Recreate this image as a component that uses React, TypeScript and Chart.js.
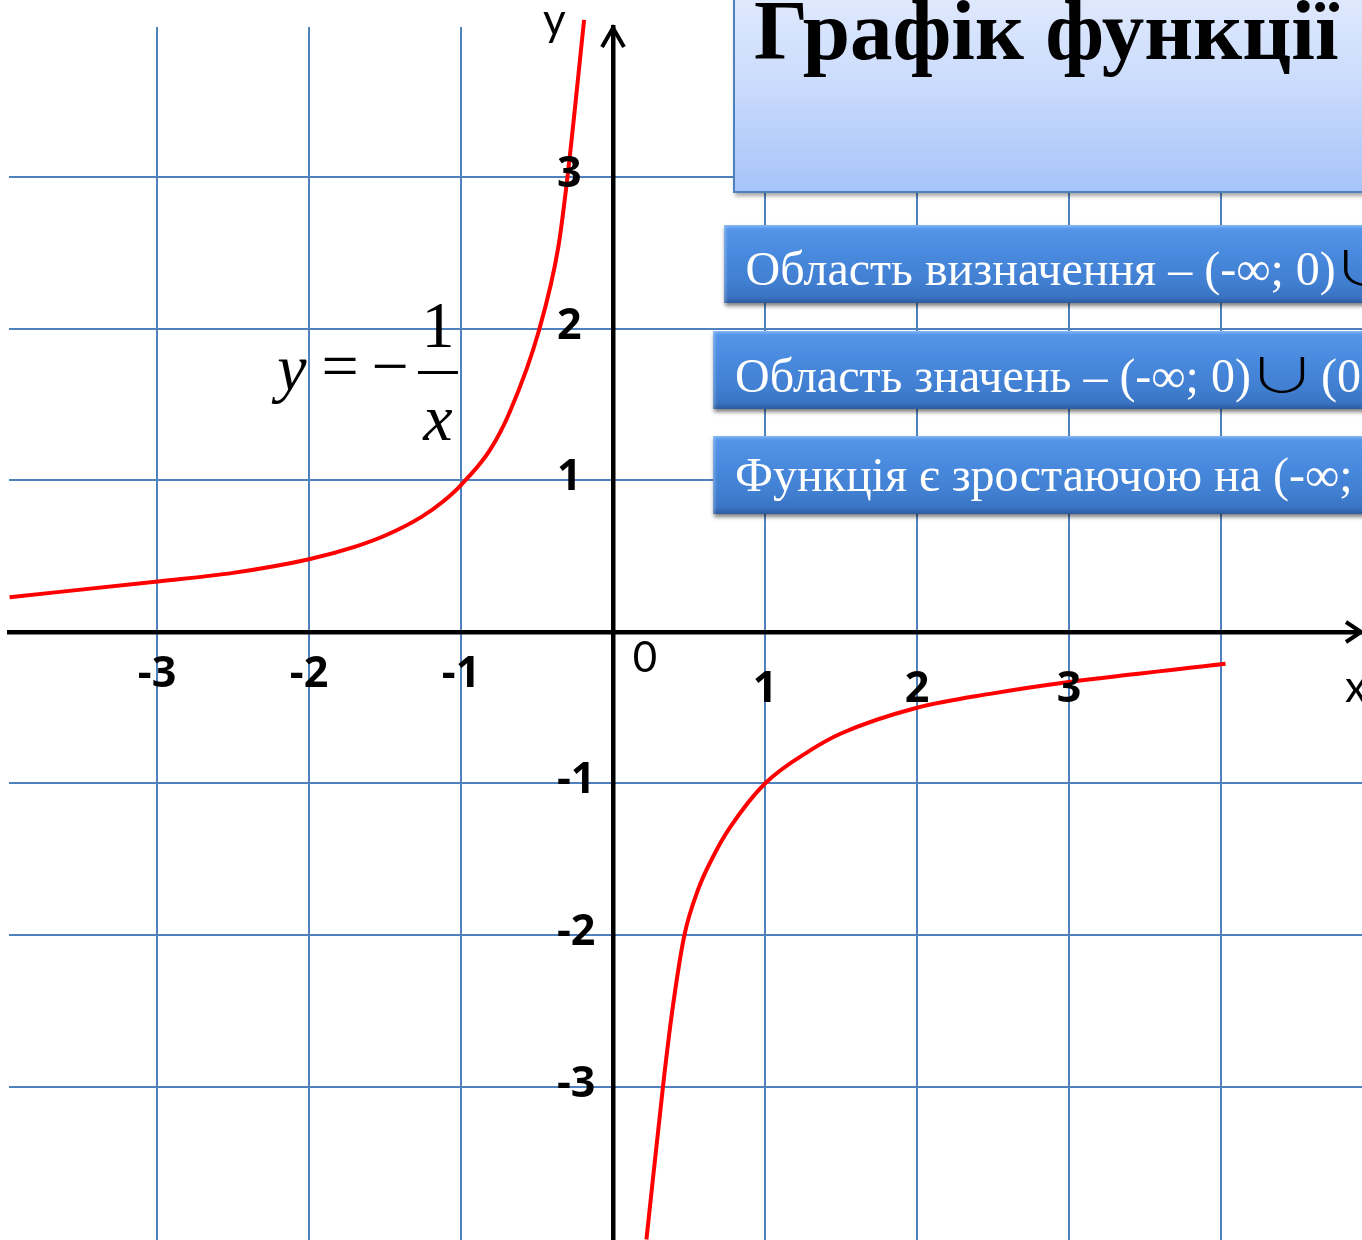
import React, { useEffect, useRef } from 'react';
import { Chart, registerables } from 'chart.js';

Chart.register(...registerables);

// ---- values ----
const LEFT_X = [-3.97, -2.98, -2.5, -2.0, -1.69, -1.48, -1.26, -1.12, -1.0, -0.81, -0.68, -0.49, -0.36, -0.3, -0.19];
const LEFT_Y = [0.23, 0.335, 0.39, 0.48, 0.565, 0.645, 0.76, 0.86, 0.97, 1.2, 1.45, 1.98, 2.54, 3.0, 4.04];
const RIGHT_X = [0.22, 0.33, 0.39, 0.47, 0.56, 0.66, 0.77, 1.0, 1.3, 1.5, 2.0, 2.5, 3.0, 4.03];
const RIGHT_Y = [-4.01, -2.99, -2.5, -2.0, -1.7, -1.48, -1.29, -1.0, -0.78, -0.67, -0.5, -0.405, -0.33, -0.21];

const X_GRID = [-3, -2, -1, 1, 2, 3, 4];
const Y_GRID = [-3, -2, -1, 1, 2, 3];
const X_TICK_VALUES = [-3, -2, -1, 1, 2, 3];
const X_TICK_LABELS = ['-3', '-2', '-1', '1', '2', '3'];
const Y_TICK_VALUES = [3, 2, 1, -1, -2, -3];
const Y_TICK_LABELS = ['3', '2', '1', '-1', '-2', '-3'];
const ORIGIN_LABEL = '0';
const X_TITLE = 'x';
const Y_TITLE = 'y';

const X_MIN = -3.974;
const X_MAX = 4.928;
const Y_MIN = -4.013;
const Y_MAX = 3.993;

const TITLE = 'Графік функції';
const FACT_1 = 'Область визначення – (-∞; 0)';
const FACT_2 = 'Область значень – (-∞; 0)';
const FACT_2_TAIL = '(0';
const FACT_3 = 'Функція є зростаючою на (-∞;';
const UNION = '∪';

const GRID_COLOR = '#4f81bd';
const CURVE_COLOR = '#ff0000';
const SERIF = '"Liberation Serif", "Times New Roman", serif';
const LABEL_FONT = '"Open Sans", Lato, sans-serif';
const PLAIN_FONT = 'Lato, "Open Sans", sans-serif';

const toPoints = (xs: number[], ys: number[]) => xs.map((x, i) => ({ x, y: ys[i] }));

const boxStyle = (left: number, top: number): React.CSSProperties => ({
  position: 'absolute',
  left,
  top,
  width: 720,
  height: 78,
  background:
    'linear-gradient(180deg, #6aa6f2 0%, #5595e8 6%, #4889dd 40%, #407ed0 75%, #3a73c3 92%, #2c5b9d 100%)',
  boxShadow: 'inset 4px 3px 3px -2px rgba(255,255,255,0.28), 1px 3px 4px rgba(0,0,0,0.5)',
});

const textAt = (left: number, baseline: number, size: number, extra: React.CSSProperties = {}): React.CSSProperties => ({
  position: 'absolute',
  left,
  top: baseline - 0.8375 * size,
  font: `${size}px/${size}px ${SERIF}`,
  whiteSpace: 'nowrap',
  ...extra,
});

const unionStyle = (marginLeft: number, marginRight: number): React.CSSProperties => ({
  display: 'inline-block',
  color: '#000',
  fontFamily: '"Noto Sans CJK SC", "DejaVu Sans", sans-serif',
  fontSize: 47,
  fontWeight: 300,
  transform: 'scaleX(1.45)',
  transformOrigin: 'left center',
  marginLeft,
  marginRight,
});

export default function App() {
  const canvasRef = useRef<HTMLCanvasElement>(null);

  useEffect(() => {
    const canvas = canvasRef.current;
    if (!canvas) return;

    const decor = {
      id: 'decor',
      afterDatasetsDraw(chart: any) {
        const { ctx, scales, chartArea } = chart;
        const xs = scales.x;
        const ys = scales.y;
        const x0 = xs.getPixelForValue(0);
        const y0 = ys.getPixelForValue(0);
        ctx.save();
        // arrow heads
        ctx.strokeStyle = '#000';
        ctx.lineWidth = 4;
        ctx.lineJoin = 'miter';
        ctx.beginPath();
        ctx.moveTo(x0 - 11, chartArea.top + 20);
        ctx.lineTo(x0, chartArea.top + 1);
        ctx.lineTo(x0 + 11, chartArea.top + 20);
        ctx.stroke();
        ctx.beginPath();
        ctx.moveTo(chartArea.right - 16, y0 - 10);
        ctx.lineTo(chartArea.right - 1, y0);
        ctx.lineTo(chartArea.right - 16, y0 + 10);
        ctx.stroke();

        // tick labels
        ctx.fillStyle = '#000';
        ctx.font = `bold 43px ${LABEL_FONT}`;
        ctx.textBaseline = 'alphabetic';
        ctx.textAlign = 'center';
        X_TICK_VALUES.forEach((v, i) => {
          ctx.fillText(X_TICK_LABELS[i], xs.getPixelForValue(v), y0 + (v < 0 ? 55 : 70));
        });
        ctx.textAlign = 'left';
        Y_TICK_VALUES.forEach((v, i) => {
          ctx.fillText(Y_TICK_LABELS[i], x0 - 56, ys.getPixelForValue(v) + 10);
        });
        ctx.font = `42px ${PLAIN_FONT}`;
        ctx.textAlign = 'center';
        ctx.fillText(ORIGIN_LABEL, x0 + 32, y0 + 40);
        ctx.font = `44px ${PLAIN_FONT}`;
        ctx.textAlign = 'left';
        ctx.fillText(X_TITLE, chartArea.right - 17, y0 + 70);
        ctx.fillText(Y_TITLE, x0 - 70, 35);
        ctx.restore();
      },
    };

    const line = {
      showLine: true,
      borderColor: CURVE_COLOR,
      borderWidth: 4,
      pointRadius: 0,
      pointHoverRadius: 0,
      cubicInterpolationMode: 'monotone' as const,
      clip: false as const,
    };

    const chart = new Chart(canvas, {
      type: 'scatter',
      data: {
        datasets: [
          { ...line, label: 'left', data: toPoints(LEFT_X, LEFT_Y) },
          { ...line, label: 'right', data: toPoints(RIGHT_X, RIGHT_Y) },
        ],
      },
      options: {
        animation: false,
        responsive: false,
        maintainAspectRatio: false,
        devicePixelRatio: 1,
        events: [],
        layout: { padding: { left: 9, top: 27, right: 0, bottom: 0 } },
        plugins: { legend: { display: false }, tooltip: { enabled: false } },
        scales: {
          x: {
            type: 'linear',
            min: X_MIN,
            max: X_MAX,
            position: { y: 0 } as any,
            afterBuildTicks: (scale: any) => {
              scale.ticks = X_GRID.map((value) => ({ value }));
            },
            ticks: { display: false },
            grid: { color: GRID_COLOR, lineWidth: 2, drawTicks: false, tickLength: 0 },
            border: { display: true, color: '#000', width: 4.5 },
          },
          y: {
            type: 'linear',
            min: Y_MIN,
            max: Y_MAX,
            position: { x: 0 } as any,
            afterBuildTicks: (scale: any) => {
              scale.ticks = Y_GRID.map((value) => ({ value }));
            },
            ticks: { display: false },
            grid: { color: GRID_COLOR, lineWidth: 2, drawTicks: false, tickLength: 0 },
            border: { display: true, color: '#000', width: 4.5 },
          },
        },
      },
      plugins: [decor],
    });

    return () => chart.destroy();
  }, []);

  return (
    <div
      style={{
        position: 'absolute',
        left: 0,
        top: 0,
        width: 1362,
        height: 1240,
        overflow: 'hidden',
        background: '#fff',
      }}
    >
      <canvas ref={canvasRef} width={1362} height={1240} style={{ display: 'block' }} />

      {/* formula y = -1/x */}
      <div style={textAt(262, 390, 66, { width: 60, textAlign: 'center', fontStyle: 'italic' })}>y</div>
      <div style={textAt(310, 388, 66, { width: 60, textAlign: 'center' })}>=</div>
      <div style={textAt(360, 388, 66, { width: 60, textAlign: 'center' })}>−</div>
      <div style={textAt(408, 347, 66, { width: 60, textAlign: 'center' })}>1</div>
      <div style={{ position: 'absolute', left: 418, top: 371, width: 40, height: 2.5, background: '#000' }} />
      <div style={textAt(408, 440, 66, { width: 60, textAlign: 'center', fontStyle: 'italic' })}>x</div>

      {/* title box */}
      <div
        style={{
          position: 'absolute',
          left: 733,
          top: -4,
          width: 720,
          height: 197,
          boxSizing: 'border-box',
          border: '2px solid #4f81bd',
          background: 'linear-gradient(180deg, #dfe9fd 0%, #cadbfc 45%, #a6c4f9 100%)',
          boxShadow: '2px 3px 4px rgba(0,0,0,0.35)',
        }}
      />
      <div style={textAt(754, 59, 85, { fontWeight: 'bold', color: '#000' })}>{TITLE}</div>

      {/* fact boxes */}
      <div style={boxStyle(724, 225)} />
      <div style={textAt(745.6, 281.6, 48, { color: '#fff' })}>
        {FACT_1}
        <span style={unionStyle(-4, 0)}>{UNION}</span>
      </div>

      <div style={boxStyle(713, 331)} />
      <div style={textAt(735, 388, 48, { color: '#fff' })}>
        {FACT_2}
        <span style={unionStyle(-3, 26)}>{UNION}</span>
        {FACT_2_TAIL}
      </div>

      <div style={boxStyle(713, 436)} />
      <div style={textAt(735, 491, 48, { color: '#fff' })}>{FACT_3}</div>
    </div>
  );
}
